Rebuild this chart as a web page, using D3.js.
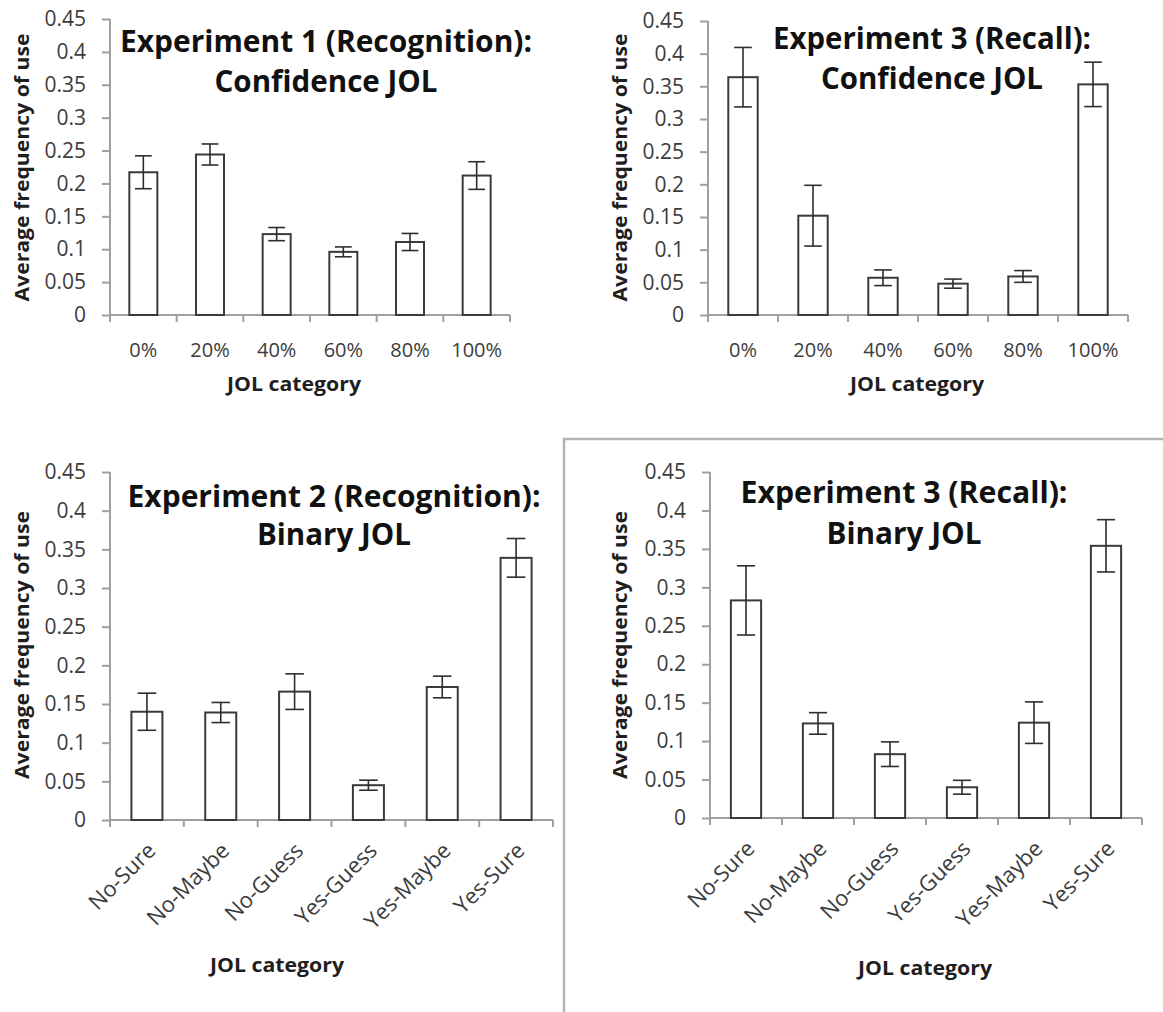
<!DOCTYPE html>
<html>
<head>
<meta charset="utf-8">
<script src="https://cdn.jsdelivr.net/npm/d3@7"></script>
<style>
  body { margin: 0; background: #fff; }
  text { font-family: "Open Sans", sans-serif; }
</style>
</head>
<body>
<div id="chart-area"></div>
<script>
// categories
const confCats = ["0%", "20%", "40%", "60%", "80%", "100%"]
const binCats = ["No-Sure", "No-Maybe", "No-Guess", "Yes-Guess", "Yes-Maybe", "Yes-Sure"]

// series values (means) and error bar half-widths
const exp1Conf = [0.217, 0.244, 0.123, 0.096, 0.111, 0.212]
const exp1ConfErr = [0.025, 0.016, 0.010, 0.0075, 0.013, 0.021]
const exp3Conf = [0.364, 0.152, 0.057, 0.048, 0.059, 0.353]
const exp3ConfErr = [0.0455, 0.0465, 0.012, 0.007, 0.009, 0.034]
const exp2Bin = [0.140, 0.139, 0.166, 0.045, 0.172, 0.339]
const exp2BinErr = [0.024, 0.013, 0.023, 0.0065, 0.014, 0.025]
const exp3Bin = [0.283, 0.123, 0.083, 0.040, 0.124, 0.354]
const exp3BinErr = [0.045, 0.014, 0.016, 0.009, 0.027, 0.034]

// y ticks
const yTicks = [0, 0.05, 0.1, 0.15, 0.2, 0.25, 0.3, 0.35, 0.4, 0.45]
const yTickLabels = ["0", "0.05", "0.1", "0.15", "0.2", "0.25", "0.3", "0.35", "0.4", "0.45"]

const titles = [
  ["Experiment 1 (Recognition):", "Confidence JOL"],
  ["Experiment 3 (Recall):", "Confidence JOL"],
  ["Experiment 2 (Recognition):", "Binary JOL"],
  ["Experiment 3 (Recall):", "Binary JOL"]
]
const yLabel = "Average frequency of use"
const xLabel = "JOL category"

let width = 1163
let height = 1012

let svg = d3.select("#chart-area")
  .append("svg")
    .attr("width", width)
    .attr("height", height)

// frame round the bottom-right chart
svg.append("rect")
  .attr("x", 564)
  .attr("y", 439)
  .attr("width", 620)
  .attr("height", 600)
  .attr("fill", "none")
  .attr("stroke", "#b4b4b4")
  .attr("stroke-width", 2.5)

let panels = [
  {cats: confCats, vals: exp1Conf, errs: exp1ConfErr, title: titles[0], rotate: false,
   x0: 110, x1: 510, y0: 315, y1: 19, ylx: 22, yly: 167.5, xlx: 294, xly: 391,
   tcx: 326, t1y: 52, t2y: 92, t1w: 412, t2w: 223},
  {cats: confCats, vals: exp3Conf, errs: exp3ConfErr, title: titles[1], rotate: false,
   x0: 708, x1: 1128, y0: 315, y1: 21, ylx: 620, yly: 167.5, xlx: 917, xly: 391,
   tcx: 932, t1y: 49, t2y: 89, t1w: 318, t2w: 222},
  {cats: binCats, vals: exp2Bin, errs: exp2BinErr, title: titles[2], rotate: true,
   x0: 110, x1: 553, y0: 820, y1: 472, ylx: 22, yly: 645, xlx: 277, xly: 972,
   tcx: 334, t1y: 507, t2y: 545, t1w: 413, t2w: 154},
  {cats: binCats, vals: exp3Bin, errs: exp3BinErr, title: titles[3], rotate: true,
   x0: 710, x1: 1142, y0: 818, y1: 472, ylx: 620, yly: 645, xlx: 925, xly: 975,
   tcx: 904, t1y: 503, t2y: 544, t1w: 327, t2w: 155}
]

panels.forEach(p => drawPanel(p))

function drawPanel(p) {
  let g = svg.append("g")

  let x = d3.scaleBand().domain(p.cats).range([p.x0, p.x1])
    .paddingInner(0.58).paddingOuter(0.29)
  let y = d3.scaleLinear().domain([0, 0.45]).range([p.y0, p.y1])

  let step = x.step()
  let data = p.cats.map((c, i) => ({cat: c, v: p.vals[i], e: p.errs[i]}))

  // y axis
  let leftAxis = d3.axisLeft(y).tickValues(yTicks)
    .tickFormat((d, i) => yTickLabels[i]).tickSize(8).tickPadding(16)
  let ya = g.append("g")
    .attr("transform", "translate(" + p.x0 + ",0)")
    .call(leftAxis)
  ya.select(".domain").attr("stroke", "#a0a0a0").attr("stroke-width", 2)
    .attr("d", "M0," + p.y0 + "V" + p.y1)
  ya.selectAll(".tick line").attr("stroke", "#a0a0a0").attr("stroke-width", 2)
  ya.selectAll(".tick text").attr("font-size", "21px").attr("fill", "#3c3c3c")
    .style("font-family", "'Open Sans', sans-serif")

  // x axis line with ticks between categories
  g.append("line")
    .attr("x1", p.x0).attr("x2", p.x1)
    .attr("y1", p.y0).attr("y2", p.y0)
    .attr("stroke", "#a0a0a0").attr("stroke-width", 2)
  g.selectAll(".xtick").data(d3.range(p.cats.length + 1))
    .enter().append("line")
      .attr("class", "xtick")
      .attr("x1", i => p.x0 + i * step).attr("x2", i => p.x0 + i * step)
      .attr("y1", p.y0).attr("y2", p.y0 + 7)
      .attr("stroke", "#a0a0a0").attr("stroke-width", 2)

  // bars
  g.selectAll("rect.bar").data(data)
    .enter().append("rect")
      .attr("class", "bar")
      .attr("x", d => x(d.cat))
      .attr("y", d => y(d.v))
      .attr("width", x.bandwidth())
      .attr("height", d => p.y0 - y(d.v))
      .attr("fill", "#fff")
      .attr("stroke", "#3a3a3a")
      .attr("stroke-width", 2)

  // error bars
  let cap = x.bandwidth() * 0.3
  let eb = g.selectAll("g.err").data(data)
    .enter().append("g")
      .attr("class", "err")
      .attr("stroke", "#2e2e2e")
      .attr("stroke-width", 1.6)
  eb.append("line")
    .attr("x1", d => x(d.cat) + x.bandwidth() / 2)
    .attr("x2", d => x(d.cat) + x.bandwidth() / 2)
    .attr("y1", d => y(d.v + d.e))
    .attr("y2", d => y(d.v - d.e))
  eb.append("line")
    .attr("x1", d => x(d.cat) + x.bandwidth() / 2 - cap)
    .attr("x2", d => x(d.cat) + x.bandwidth() / 2 + cap)
    .attr("y1", d => y(d.v + d.e))
    .attr("y2", d => y(d.v + d.e))
  eb.append("line")
    .attr("x1", d => x(d.cat) + x.bandwidth() / 2 - cap)
    .attr("x2", d => x(d.cat) + x.bandwidth() / 2 + cap)
    .attr("y1", d => y(d.v - d.e))
    .attr("y2", d => y(d.v - d.e))

  // category labels
  if (p.rotate) {
    g.selectAll("text.cat").data(p.cats)
      .enter().append("text")
        .attr("class", "cat")
        .attr("transform", d => "translate(" + (x(d) + x.bandwidth() / 2 + 10) + "," + (p.y0 + 32) + ") rotate(-45)")
        .attr("text-anchor", "end")
        .attr("font-size", "22px")
        .attr("fill", "#3c3c3c")
        .text(d => d)
  } else {
    g.selectAll("text.cat").data(p.cats)
      .enter().append("text")
        .attr("class", "cat")
        .attr("x", d => x(d) + x.bandwidth() / 2)
        .attr("y", p.y0 + 42)
        .attr("text-anchor", "middle")
        .attr("font-size", "20px")
        .attr("fill", "#3c3c3c")
        .text(d => d)
  }

  // axis labels
  g.append("text")
    .attr("transform", "translate(" + p.ylx + "," + p.yly + ") rotate(-90)")
    .attr("text-anchor", "middle")
    .attr("dy", "0.35em")
    .attr("font-size", "19px")
    .attr("font-weight", "bold")
    .attr("fill", "#1e1e1e")
    .attr("textLength", 268)
    .attr("lengthAdjust", "spacingAndGlyphs")
    .text(yLabel)

  g.append("text")
    .attr("x", p.xlx)
    .attr("y", p.xly)
    .attr("text-anchor", "middle")
    .attr("font-size", "19px")
    .attr("font-weight", "bold")
    .attr("fill", "#1e1e1e")
    .attr("textLength", 134)
    .attr("lengthAdjust", "spacingAndGlyphs")
    .text(xLabel)

  // title, two lines
  g.append("text")
    .attr("x", p.tcx)
    .attr("y", p.t1y)
    .attr("text-anchor", "middle")
    .attr("font-size", "30px")
    .attr("font-weight", "bold")
    .attr("fill", "#111")
    .attr("textLength", p.t1w)
    .attr("lengthAdjust", "spacingAndGlyphs")
    .text(p.title[0])
  g.append("text")
    .attr("x", p.tcx)
    .attr("y", p.t2y)
    .attr("text-anchor", "middle")
    .attr("font-size", "30px")
    .attr("font-weight", "bold")
    .attr("fill", "#111")
    .attr("textLength", p.t2w)
    .attr("lengthAdjust", "spacingAndGlyphs")
    .text(p.title[1])
}
</script>
</body>
</html>
